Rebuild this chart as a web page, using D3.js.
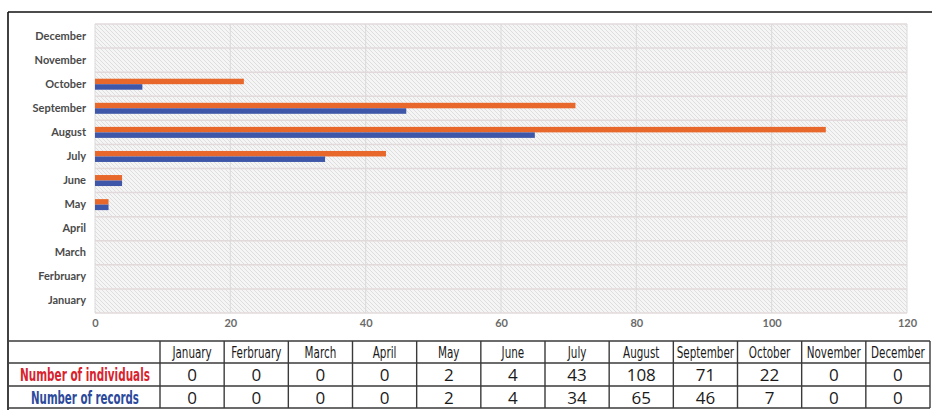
<!DOCTYPE html>
<html>
<head>
<meta charset="utf-8">
<script src="https://cdn.jsdelivr.net/npm/d3@7"></script>
<style>
  html, body { margin: 0; padding: 0; background: #fff; }
  svg { display: block; }
</style>
</head>
<body>
<svg id="chart" width="932" height="410"></svg>
<script>
// Monthly counts: individuals observed and records logged
const months = ["January", "Ferbruary", "March", "April", "May", "June",
                "July", "August", "September", "October", "November", "December"];
const individuals = [0, 0, 0, 0, 2, 4, 43, 108, 71, 22, 0, 0];
const records = [0, 0, 0, 0, 2, 4, 34, 65, 46, 7, 0, 0];
const xTicks = [0, 20, 40, 60, 80, 100, 120];
const seriesNames = ["Number of individuals", "Number of records"];

const svg = d3.select("#chart");
const W = 932, H = 410;

const plot = { left: 95, right: 907, top: 24, bottom: 313 };

const x = d3.scaleLinear().domain([0, 120]).range([plot.left, plot.right]);
const y = d3.scaleBand().domain(months.slice().reverse()).range([plot.top, plot.bottom]);

// Hatched plot background
const defs = svg.append("defs");
const pat = defs.append("pattern")
  .attr("id", "hatch").attr("patternUnits", "userSpaceOnUse")
  .attr("width", 4).attr("height", 4);
pat.append("rect").attr("width", 4).attr("height", 4).attr("fill", "#f5f5f5");
pat.append("path").attr("d", "M-1,3 l2,2 M0,0 l4,4 M3,-1 l2,2")
  .attr("stroke", "#dedede").attr("stroke-width", 1);

svg.append("rect")
  .attr("x", plot.left).attr("y", plot.top)
  .attr("width", plot.right - plot.left).attr("height", plot.bottom - plot.top)
  .attr("fill", "url(#hatch)");

// Horizontal band separators
const bandEdges = months.map(m => y(m)).concat([plot.bottom]);
svg.append("g").selectAll("line").data(bandEdges).join("line")
  .attr("x1", plot.left).attr("x2", plot.right)
  .attr("y1", d => d).attr("y2", d => d)
  .attr("stroke", "#e2dada").attr("stroke-width", 1.5);

// Vertical gridlines at ticks
svg.append("g").selectAll("line").data(xTicks).join("line")
  .attr("x1", d => x(d)).attr("x2", d => x(d))
  .attr("y1", plot.top).attr("y2", plot.bottom)
  .attr("stroke", "#dadada").attr("stroke-width", 1);

// Bars: individuals (orange) above records (blue)
const barH = 5.5;
const rows = months.map((m, i) => ({ m, ind: individuals[i], rec: records[i] }));
const barG = svg.append("g");
barG.selectAll("rect.ind").data(rows).join("rect").attr("class", "ind")
  .attr("x", x(0)).attr("y", d => y(d.m) + y.bandwidth() / 2 - barH)
  .attr("width", d => x(d.ind) - x(0)).attr("height", barH)
  .attr("fill", "#e8682b");
barG.selectAll("rect.rec").data(rows).join("rect").attr("class", "rec")
  .attr("x", x(0)).attr("y", d => y(d.m) + y.bandwidth() / 2)
  .attr("width", d => x(d.rec) - x(0)).attr("height", barH)
  .attr("fill", "#3f57a8");

// Category axis
const yAxis = svg.append("g")
  .attr("transform", `translate(${plot.left - 9},0)`)
  .call(d3.axisLeft(y).tickSize(0).tickPadding(0));
yAxis.select(".domain").remove();
yAxis.selectAll("text")
  .attr("font-family", "Lato, 'Open Sans', sans-serif")
  .attr("font-weight", "bold")
  .attr("font-size", 11)
  .attr("fill", "#4a4a4a");

// Value axis
const xAxis = svg.append("g")
  .attr("transform", `translate(0,${plot.bottom + 6})`)
  .call(d3.axisBottom(x).tickValues(xTicks).tickSize(0).tickPadding(0));
xAxis.select(".domain").remove();
xAxis.selectAll("text")
  .attr("font-family", "Lato, 'Open Sans', sans-serif")
  .attr("font-weight", "bold")
  .attr("font-size", 11)
  .attr("fill", "#6a6a6a");

// Outer frame (top and left)
svg.append("line").attr("x1", 8).attr("x2", W).attr("y1", 12).attr("y2", 12)
  .attr("stroke", "#111").attr("stroke-width", 1.6);
svg.append("line").attr("x1", 8).attr("x2", 8).attr("y1", 12).attr("y2", H)
  .attr("stroke", "#111").attr("stroke-width", 1.6);

// Data table
const col = d3.scaleBand().domain(months).range([160, 930]);
const rowY = [341, 363, 386, 408];
const tableG = svg.append("g");
tableG.selectAll("line.h").data(rowY).join("line").attr("class", "h")
  .attr("x1", 9).attr("x2", 930).attr("y1", d => d).attr("y2", d => d)
  .attr("stroke", "#3a3a3a").attr("stroke-width", 1.4);
const vx = months.map(m => col(m)).concat([930]);
tableG.selectAll("line.v").data(vx).join("line").attr("class", "v")
  .attr("x1", d => d).attr("x2", d => d).attr("y1", rowY[0]).attr("y2", rowY[3])
  .attr("stroke", "#3a3a3a").attr("stroke-width", 1.4);

// Condensed lettering: a centred text squeezed horizontally around its anchor
function condensedText(parent, cx, cy, str, sx, attrs) {
  const g = parent.append("g").attr("transform", `translate(${cx},${cy}) scale(${sx},1)`);
  const t = g.append("text").attr("x", 0).attr("y", 0).attr("text-anchor", "middle").text(str);
  Object.entries(attrs).forEach(([k, v]) => t.attr(k, v));
  return t;
}

const fam = "'DejaVu Sans', sans-serif";
months.forEach(m => {
  condensedText(tableG, col(m) + col.bandwidth() / 2, 358, m, 0.63,
    { "font-family": fam, "font-size": 16.5, "fill": "#1a1a1a" });
});

const rowDefs = [
  { name: seriesNames[0], values: individuals, color: "#d8232e", y: 381, w: 130 },
  { name: seriesNames[1], values: records, color: "#2c4a9c", y: 404, w: 108 }
];
rowDefs.forEach(r => {
  const t = condensedText(tableG, 85, r.y, r.name, 1,
    { "font-family": fam, "font-size": 17, "font-weight": "bold", "fill": r.color });
  const natural = t.node().getComputedTextLength();
  d3.select(t.node().parentNode).attr("transform", `translate(85,${r.y}) scale(${r.w / natural},1)`);
  tableG.selectAll(null).data(r.values).join("text")
    .attr("x", (d, i) => col(months[i]) + col.bandwidth() / 2).attr("y", r.y)
    .attr("text-anchor", "middle")
    .attr("font-family", "'Open Sans', sans-serif").attr("font-size", 17)
    .attr("fill", "#1a1a1a").text(d => d);
});
</script>
</body>
</html>
